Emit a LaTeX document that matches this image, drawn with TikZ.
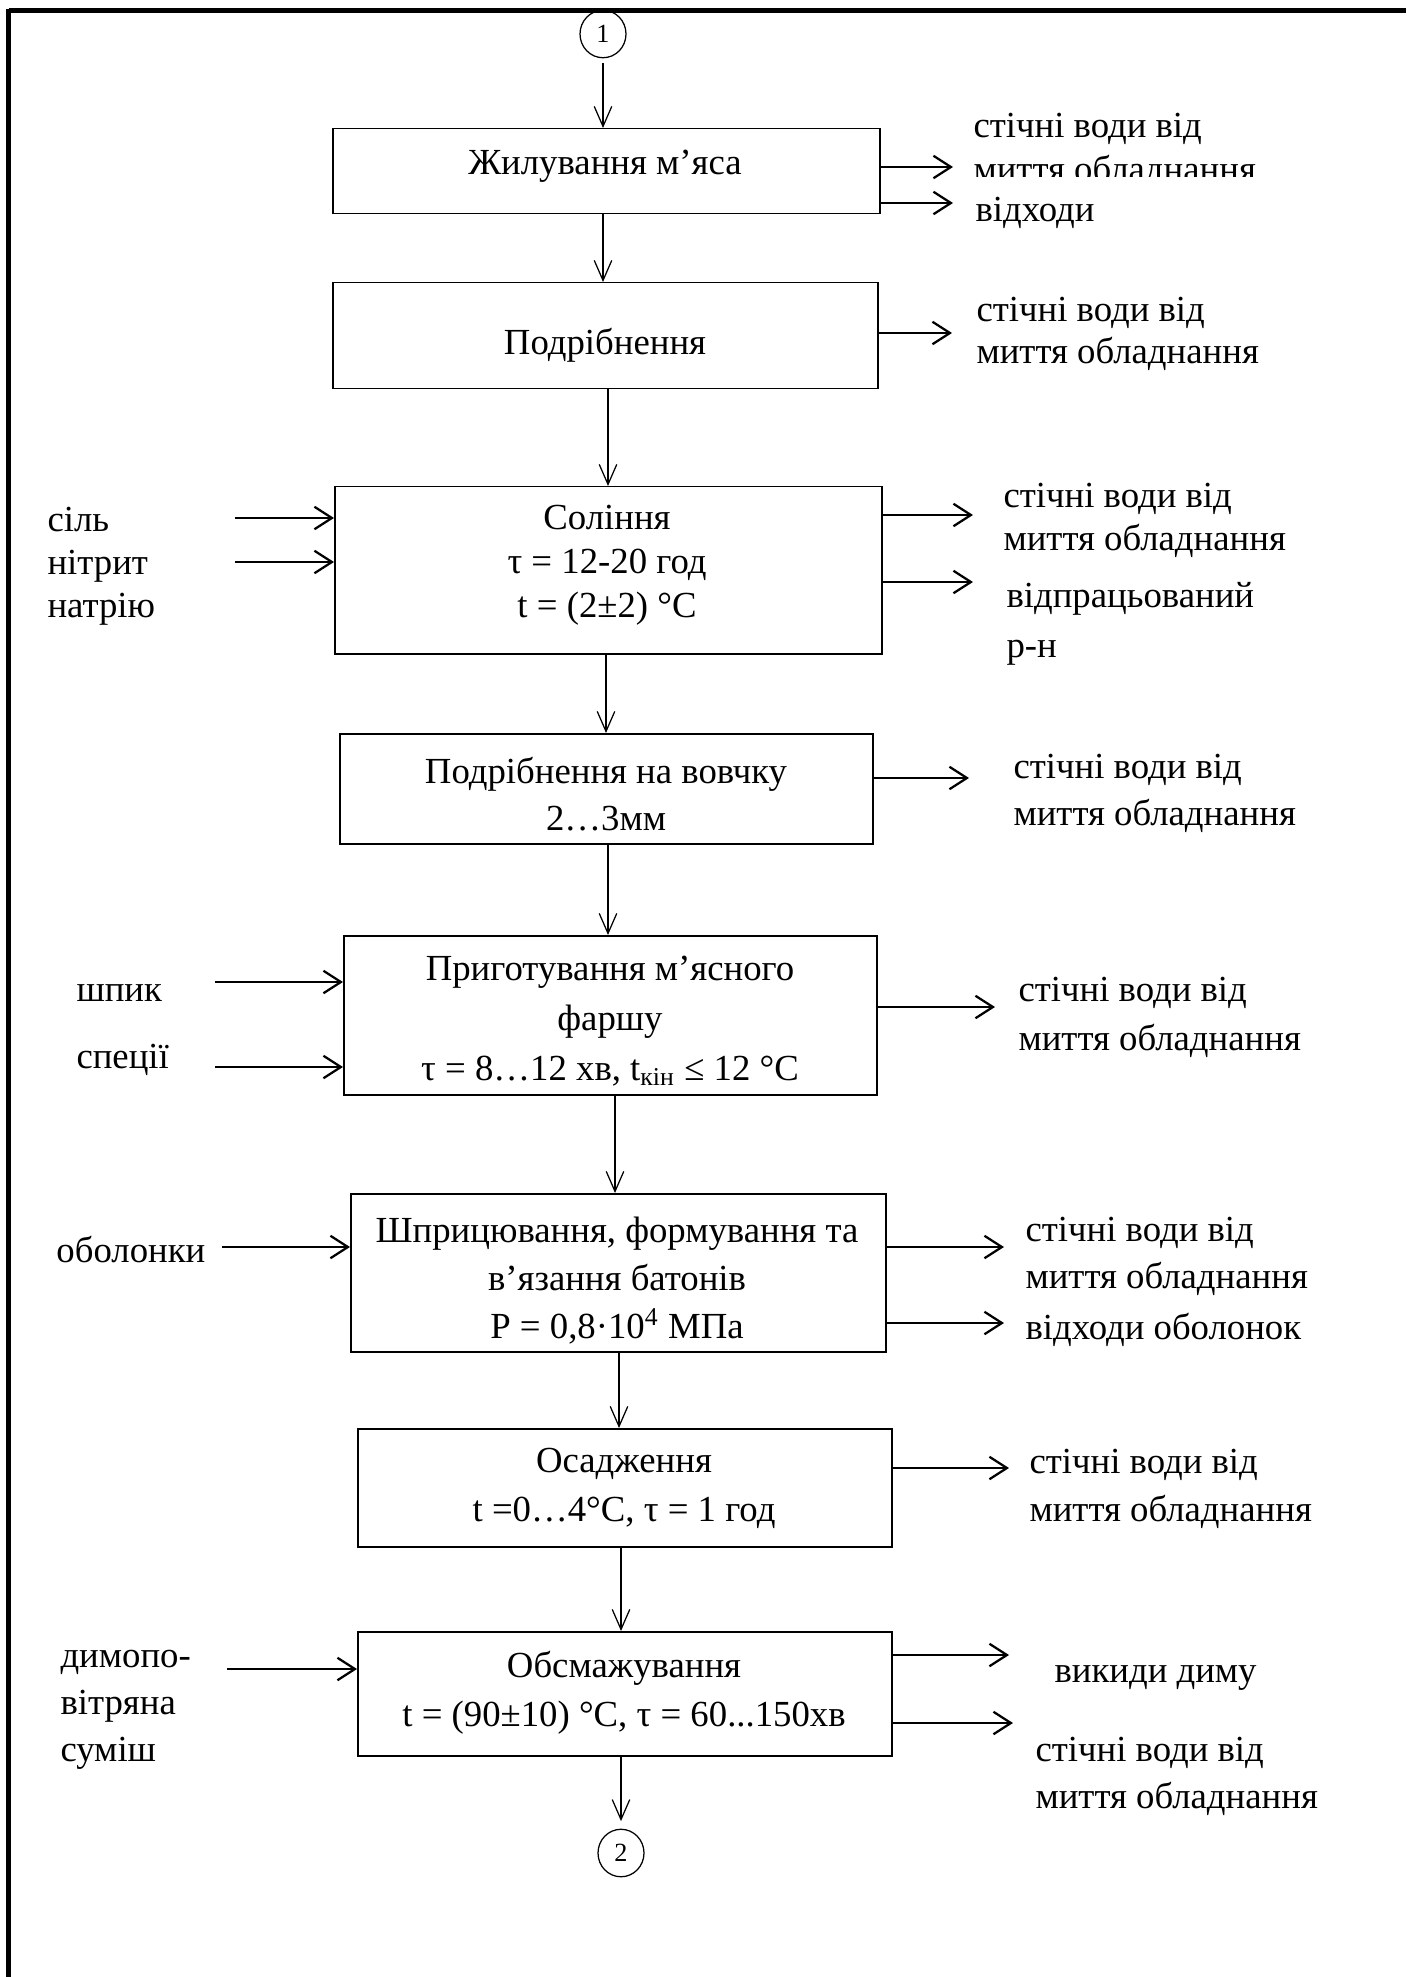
\documentclass[tikz,border=0pt]{standalone}
\usepackage{fontspec}
\setmainfont{Liberation Serif}
\usetikzlibrary{arrows.meta,shapes.geometric}
\newcommand\myfs[1]{\fontsize{14.7}{#1}\selectfont}
\begin{document}
\begin{tikzpicture}[x=0.4pt,y=-0.4pt,
  box/.style={draw, line width=0.6pt, anchor=north west, inner sep=0pt},
  txt/.style={inner sep=0pt, align=center, font=\myfs{19}},
  side/.style={inner sep=0pt, anchor=west, align=left, font=\myfs{17.6}},
  circ/.style={draw, ellipse, line width=0.5pt, minimum width=18.4pt, minimum height=19pt, inner sep=0pt, font=\fontsize{10.5}{12}\selectfont},
  varr/.style={line width=0.5pt, -{Straight Barb[length=8pt,width=7pt]}},
  harr/.style={line width=0.9pt, -{Straight Barb[length=7pt,width=9pt]}}]
\useasboundingbox (0,0) rectangle (1406,1977);
% frame
\draw[line width=2pt] (8.5,10.5) -- (1406,10.5);
\draw[line width=2pt] (8.5,9.5) -- (8.5,1977);

% connectors circles
\node[circ] (c1) at (603,34) {1};
\node[circ] (c2) at (621,1853) {2};

% boxes
\node[box, minimum width=218.8pt, minimum height=34pt] (b1) at (332,128) {};
\node[box, minimum width=218pt, minimum height=42.4pt] (b2) at (332,282) {};
\node[box, minimum width=218.8pt, minimum height=66.8pt] (b3) at (334,486) {};
\node[box, minimum width=213.2pt, minimum height=44pt] (b4) at (339,733) {};
\node[box, minimum width=213.2pt, minimum height=63.6pt] (b5) at (343,935) {};
\node[box, minimum width=214pt, minimum height=63.2pt] (b6) at (350,1193) {};
\node[box, minimum width=213.6pt, minimum height=47.2pt] (b7) at (357,1428) {};
\node[box, minimum width=213.6pt, minimum height=49.6pt] (b8) at (357,1631) {};

% box texts
\node[txt] (t1) at (605,166) {Жилування м’яса};
\node[txt] (t2) at (605,345) {Подрібнення};
\node[txt, font=\myfs{17.6}] (t3) at (607,565) {Соління\\τ = 12-20 год\\t = (2±2) °C};
\node[txt, font=\myfs{18.8}] (t4) at (606,794) {Подрібнення на вовчку\\2…3мм};
\node[txt, font=\myfs{20}] (t5) at (610,1021) {Приготування м’ясного\\фаршу\\τ = 8…12 хв, t\textsubscript{кін} ≤ 12 °C};
\node[txt, font=\myfs{19.2}] (t6) at (617,1281) {Шприцювання, формування та\\в’язання батонів\\P = 0,8·10\textsuperscript{4} МПа};
\node[txt, font=\myfs{19.6}] (t7) at (624,1488) {Осадження\\t =0…4°C, τ = 1 год};
\node[txt, font=\myfs{19.6}] (t8) at (624,1693) {Обсмажування\\t = (90±10) °C, τ = 60...150хв};

% vertical arrows
\draw[varr, shorten <=2pt] (c1.south) -- (c1.south |- b1.north);
\draw[varr] (b1.south -| c1) -- (c1 |- b2.north);
\draw[varr] (608,388) -- (608,486);
\draw[varr] (606,653) -- (606,733);
\draw[varr] (608,843) -- (608,935);
\draw[varr] (615,1094) -- (615,1193);
\draw[varr] (619,1351) -- (619,1428);
\draw[varr] (621,1546) -- (621,1631);
\draw[varr, shorten >=3pt] (b8.south -| c2) -- (c2.north);

% right side outputs
\node[side] (r1a) at (973,129) {стічні води від};
\begin{scope}
\clip (960,150) rectangle (1406,177);
\node[side] (r1b) at (973,172) {миття обладнання};
\end{scope}
\node[side] (r1c) at (975,213) {відходи};
\draw[harr] (b1.east |- 0,167) -- (953,167);
\draw[harr] (b1.east |- 0,203) -- (953,203);

\node[side, font=\myfs{16.8}] (r2) at (976,334) {стічні води від\\миття обладнання};
\draw[harr] (b2.east |- 0,333) -- (952,333);

\node[side, font=\myfs{17.2}] (r3a) at (1003,520) {стічні води від\\миття обладнання};
\node[side, font=\myfs{20}] (r3b) at (1006,624) {відпрацьований\\р-н};
\draw[harr] (b3.east |- 0,515) -- (973,515);
\draw[harr] (b3.east |- 0,582) -- (973,582);

\node[side, font=\myfs{18.8}] (r4) at (1013,793) {стічні води від\\миття обладнання};
\draw[harr] (b4.east |- 0,778) -- (969,778);

\node[side, font=\myfs{19.6}] (r5) at (1018,1017) {стічні води від\\миття обладнання};
\draw[harr] (b5.east |- 0,1007) -- (995,1007);

\node[side, font=\myfs{18.8}] (r6a) at (1025,1256) {стічні води від\\миття обладнання};
\node[side] (r6b) at (1025,1330) {відходи оболонок};
\draw[harr] (b6.east |- 0,1247) -- (1004,1247);
\draw[harr] (b6.east |- 0,1323) -- (1004,1323);

\node[side, font=\myfs{19.2}] (r7) at (1029,1489) {стічні води від\\миття обладнання};
\draw[harr] (b7.east |- 0,1468) -- (1009,1468);

\node[side] (r8a) at (1054,1678) {викиди диму};
\node[side, font=\myfs{18.8}] (r8b) at (1035,1776) {стічні води від\\миття обладнання};
\draw[harr] (b8.east |- 0,1655) -- (1009,1655);
\draw[harr] (b8.east |- 0,1723) -- (1013,1723);

% left side inputs
\node[side, font=\myfs{17.2}] (l3) at (47,566) {сіль\\нітрит\\натрію};
\draw[harr] (235,518) -- (b3.west |- 0,518);
\draw[harr] (235,562) -- (b3.west |- 0,562);

\node[side] (l5a) at (76,993) {шпик};
\node[side] (l5b) at (76,1060) {спеції};
\draw[harr] (215,982) -- (b5.west |- 0,982);
\draw[harr] (215,1067) -- (b5.west |- 0,1067);

\node[side] (l6) at (56,1250) {оболонки};
\draw[harr] (222,1247) -- (b6.west |- 0,1247);

\node[side, font=\myfs{18.8}] (l8) at (60,1710) {димопо-\\вітряна\\суміш};
\draw[harr] (227,1669) -- (b8.west |- 0,1669);
\end{tikzpicture}
\end{document}
